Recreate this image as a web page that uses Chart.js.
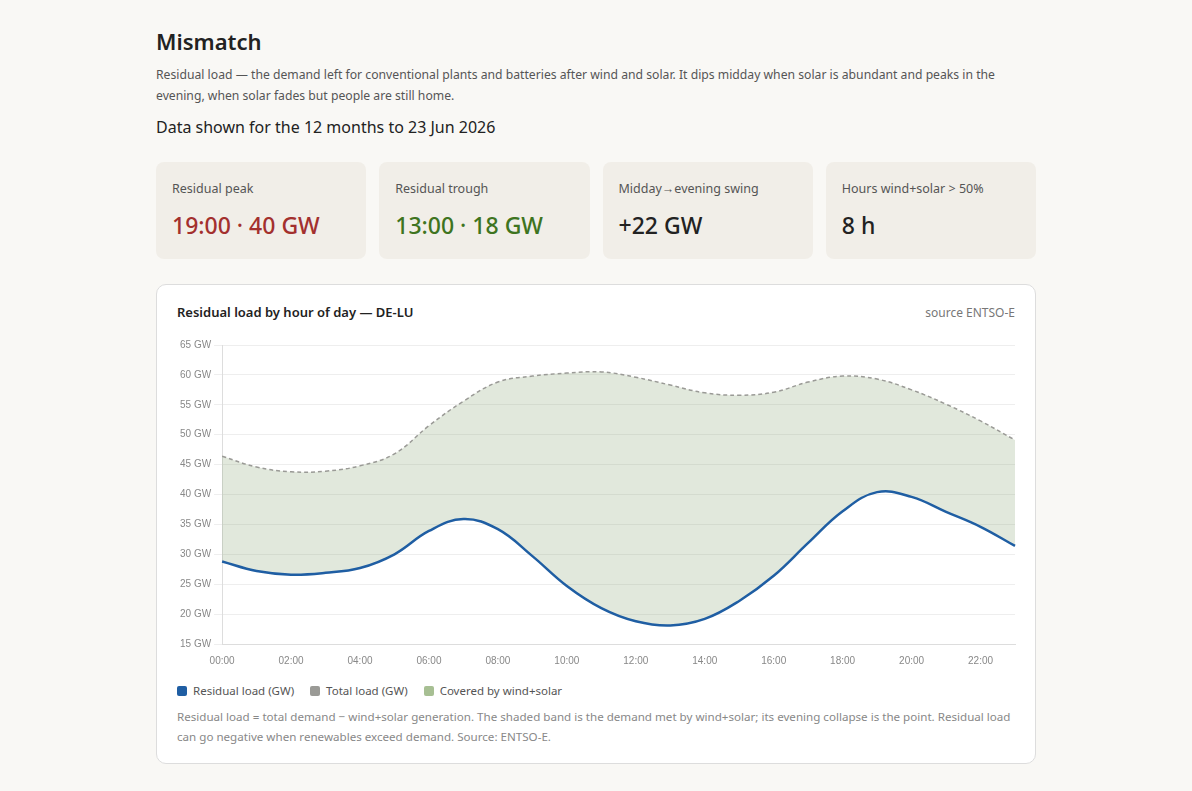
<!DOCTYPE html>
<html>
<head>
<meta charset="utf-8">
<script src="https://cdn.jsdelivr.net/npm/chart.js@4.4.1/dist/chart.umd.min.js"></script>
<style>
  body {
    margin: 0;
    background: #f9f8f5;
    font-family: "Segoe UI", "Noto Sans", "Open Sans", sans-serif;
    color: #222;
  }
  .wrap { width: 880px; margin: 0 auto; padding-top: 26px; }
  h1 { font-size: 22px; font-weight: 600; margin: 0 0 8px; line-height: 30px; }
  .lead { font-size: 12.2px; color: #555; line-height: 21px; margin: 0 0 10px; }
  .period { font-size: 16px; margin: 0 0 24px; line-height: 22px; }
  .kpis { display: flex; gap: 13px; margin-bottom: 25px; }
  .kpi { flex: 1; background: #f1eee8; border-radius: 8px; height: 97px; box-sizing: border-box; padding: 18px 16px; }
  .kpi .lbl { font-size: 12.5px; color: #555; line-height: 18px; }
  .kpi .val { font-size: 23px; font-weight: 500; margin-top: 13px; line-height: 28px; }
  .red { color: #a3302e; }
  .green { color: #3e7420; }
  .card { background: #fff; border: 1px solid #ddd; border-radius: 10px; padding: 18px 20px 16px; }
  .card-head { display: flex; justify-content: space-between; align-items: baseline; }
  .card-head .t { font-size: 13px; font-weight: 600; }
  .card-head .s { font-size: 12px; color: #777; }
  .chart-box { position: relative; height: 334px; margin-top: 15px; margin-right: -3px; }
  .legend { display: flex; gap: 16px; font-size: 11.5px; color: #555; margin-top: 13px; }
  .legend span.sw { display: inline-block; width: 10px; height: 10px; border-radius: 2px; margin-right: 6px; vertical-align: -1px; }
  .note { font-size: 11.6px; color: #888; line-height: 20px; margin-top: 9px; }
</style>
</head>
<body>
<div class="wrap">
  <h1>Mismatch</h1>
  <p class="lead">Residual load — the demand left for conventional plants and batteries after wind and solar. It dips midday when solar is abundant and peaks in the evening, when solar fades but people are still home.</p>
  <p class="period">Data shown for the 12 months to 23 Jun 2026</p>
  <div class="kpis">
    <div class="kpi"><div class="lbl">Residual peak</div><div class="val red">19:00 · 40 GW</div></div>
    <div class="kpi"><div class="lbl">Residual trough</div><div class="val green">13:00 · 18 GW</div></div>
    <div class="kpi"><div class="lbl">Midday→evening swing</div><div class="val">+22 GW</div></div>
    <div class="kpi"><div class="lbl">Hours wind+solar &gt; 50%</div><div class="val">8 h</div></div>
  </div>
  <div class="card">
    <div class="card-head">
      <div class="t">Residual load by hour of day — DE-LU</div>
      <div class="s">source ENTSO-E</div>
    </div>
    <div class="chart-box"><canvas id="chart"></canvas></div>
    <div class="legend">
      <div><span class="sw" style="background:#1f5ea3"></span>Residual load (GW)</div>
      <div><span class="sw" style="background:#9a9a96"></span>Total load (GW)</div>
      <div><span class="sw" style="background:#a7bf93"></span>Covered by wind+solar</div>
    </div>
    <div class="note">Residual load = total demand − wind+solar generation. The shaded band is the demand met by wind+solar; its evening collapse is the point. Residual load can go negative when renewables exceed demand. Source: ENTSO-E.</div>
  </div>
</div>
<script>
// hours of the day
const hours = ['00:00','01:00','02:00','03:00','04:00','05:00','06:00','07:00','08:00','09:00','10:00','11:00',
               '12:00','13:00','14:00','15:00','16:00','17:00','18:00','19:00','20:00','21:00','22:00','23:00'];

// residual load, GW
const residualLoad = [28.8, 27.2, 26.6, 26.9, 27.7, 30.0, 33.9, 35.9, 34.2, 29.7, 24.7, 21.0,
                      18.8, 18.1, 19.2, 22.2, 26.4, 31.9, 37.2, 40.4, 39.6, 37.1, 34.6, 31.4];

// total load, GW
const totalLoad = [46.4, 44.6, 43.8, 43.9, 44.8, 46.8, 51.5, 55.6, 58.8, 59.8, 60.3, 60.5,
                   59.6, 58.3, 57.0, 56.6, 57.1, 58.8, 59.8, 59.3, 57.5, 55.1, 52.3, 49.1];

const ctx = document.getElementById('chart').getContext('2d');
new Chart(ctx, {
  type: 'line',
  data: {
    labels: hours,
    datasets: [
      {
        label: 'Residual load (GW)',
        data: residualLoad,
        borderColor: '#1f5ea3',
        borderWidth: 2.5,
        pointRadius: 0,
        tension: 0.4,
        fill: false
      },
      {
        label: 'Total load (GW)',
        data: totalLoad,
        borderColor: '#9a9a96',
        borderWidth: 1.5,
        borderDash: [4, 3],
        pointRadius: 0,
        tension: 0.4,
        fill: { target: 0 },
        backgroundColor: 'rgba(140, 165, 120, 0.26)'
      }
    ]
  },
  options: {
    responsive: true,
    maintainAspectRatio: false,
    animation: false,
    plugins: {
      legend: { display: false },
      tooltip: { enabled: false }
    },
    scales: {
      x: {
        grid: { display: false },
        border: { color: '#ddd' },
        ticks: {
          color: '#888',
          font: { size: 10 },
          autoSkip: false,
          maxRotation: 0,
          callback: (v, i) => (i % 2 === 0 ? hours[i] : '')
        }
      },
      y: {
        min: 15,
        max: 65,
        grid: { color: '#eee' },
        border: { color: '#ddd' },
        ticks: {
          stepSize: 5,
          color: '#888',
          font: { size: 10 },
          callback: v => v + ' GW'
        }
      }
    }
  }
});
</script>
</body>
</html>
